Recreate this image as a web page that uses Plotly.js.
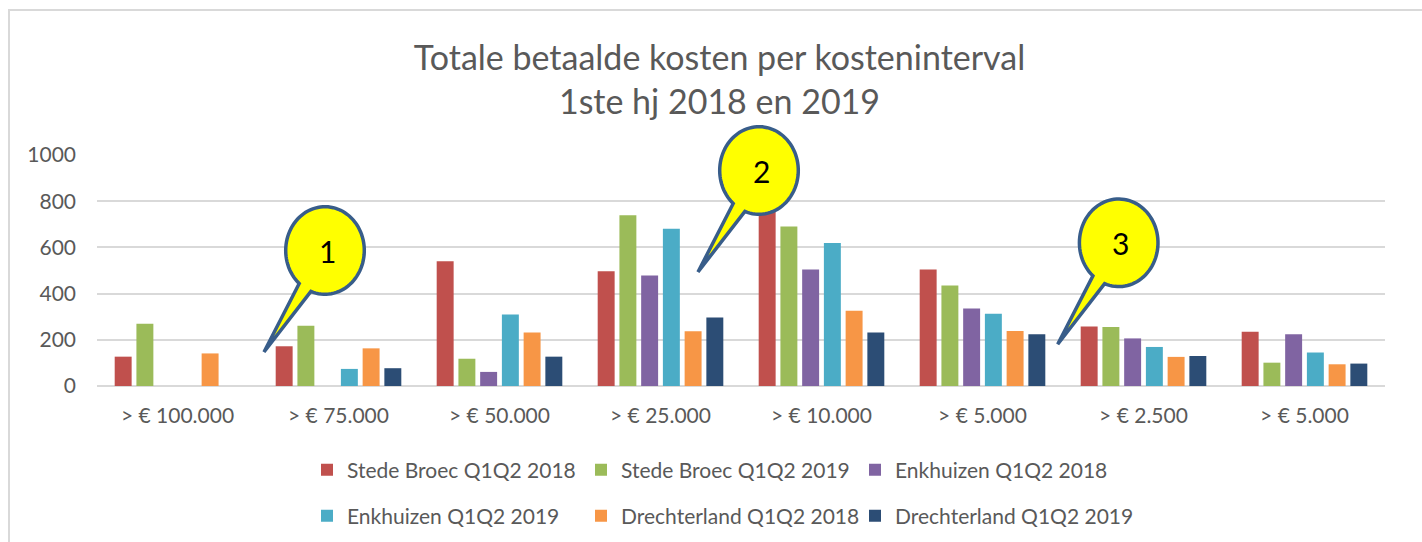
<!DOCTYPE html>
<html>
<head>
<meta charset="utf-8">
<script src="https://cdn.plot.ly/plotly-3.0.1.min.js"></script>
<style>
  html, body { margin: 0; padding: 0; background: #fff; }
  #chart { width: 1422px; height: 542px; }
</style>
</head>
<body>
<div id="chart"></div>
<script>
// ---- data ----
const categories = ['> € 100.000', '> € 75.000', '> € 50.000', '> € 25.000', '> € 10.000', '> € 5.000', '> € 2.500', '> € 5.000'];
const seriesNames = ['Stede Broec Q1Q2 2018', 'Stede Broec Q1Q2 2019', 'Enkhuizen Q1Q2 2018', 'Enkhuizen Q1Q2 2019', 'Drechterland Q1Q2 2018', 'Drechterland Q1Q2 2019'];
const stedeBroec2018 = [127, 172, 540, 497, 840, 504, 258, 235];
const stedeBroec2019 = [270, 261, 118, 739, 691, 435, 255, 101];
const enkhuizen2018 = [null, null, 61, 478, 504, 336, 206, 224];
const enkhuizen2019 = [null, 74, 309, 681, 619, 313, 169, 145];
const drechterland2018 = [141, 163, 232, 237, 326, 238, 126, 94];
const drechterland2019 = [null, 77, 127, 296, 232, 224, 130, 97];
const yTicks = [0, 200, 400, 600, 800, 1000];
const calloutLabels = ['1', '2', '3'];

// ---- style ----
const colors = ['#C0504D', '#9BBB59', '#8064A2', '#4BACC6', '#F79646', '#2C4D75'];
const FONT = 'Lato, "Open Sans", sans-serif';
const TXT = '#595959';
const W = 1422, H = 542;
const M = { l: 97, r: 37, t: 155, b: 156 };
const PW = W - M.l - M.r, PH = H - M.t - M.b;
const px2x = p => (p - M.l) / PW;
const px2y = p => (H - M.b - p) / PH;

const xIdx = categories.map((c, i) => i);
const allSeries = [stedeBroec2018, stedeBroec2019, enkhuizen2018, enkhuizen2019, drechterland2018, drechterland2019];

const traces = allSeries.map((vals, i) => ({
  type: 'bar',
  name: seriesNames[i],
  x: xIdx,
  y: vals,
  marker: { color: colors[i], line: { width: 0 } },
  legend: i < 3 ? 'legend' : 'legend2',
  legendwidth: (i % 3 === 2) ? 270 : 229,
  hoverinfo: 'skip'
}));

// callout geometry (pixel space -> paper)
const calloutCenters = [[325, 250.5], [759, 170.5], [1118.7, 242.8]];
const RX = 39.3, RY = 43.8;
const TIP = [-61, 101.5];
function calloutPath(cx, cy) {
  const dir = Math.atan2(TIP[1], TIP[0]);
  const half = 10 * Math.PI / 180;
  const a1 = dir + half, a2 = dir - half;
  const pt = a => [cx + RX * Math.cos(a), cy + RY * Math.sin(a)];
  const P = [];
  P.push(pt(a1));
  P.push([cx + TIP[0], cy + TIP[1]]);
  const steps = 90;
  const end = a1 - 2 * Math.PI;
  for (let k = 0; k <= steps; k++) {
    P.push(pt(a2 + (end - a2) * k / steps));
  }
  return 'M' + P.map(p => px2x(p[0]).toFixed(5) + ',' + px2y(p[1]).toFixed(5)).join('L') + 'Z';
}

const shapes = [
  { type: 'rect', xref: 'paper', yref: 'paper', x0: px2x(9), x1: px2x(1440), y0: px2y(560), y1: px2y(10),
    line: { color: '#D9D9D9', width: 2 }, fillcolor: 'rgba(0,0,0,0)', layer: 'below' }
];
calloutCenters.forEach(c => {
  shapes.push({ type: 'path', xref: 'paper', yref: 'paper', path: calloutPath(c[0], c[1]),
    fillcolor: '#FFFF00', line: { color: '#385D8A', width: 3.5 }, layer: 'above' });
});

const annotations = calloutCenters.map((c, i) => ({
  xref: 'paper', yref: 'paper', x: px2x(c[0] + 2), y: px2y(c[1]), text: calloutLabels[i],
  showarrow: false, xanchor: 'center', yanchor: 'middle',
  font: { family: FONT, size: 30, color: '#000' }
}));

const legendBase = {
  orientation: 'h', xanchor: 'left', yanchor: 'middle',
  xref: 'container', yref: 'container',
  entrywidthmode: 'pixels', traceorder: 'normal',
  font: { family: FONT, size: 21, color: TXT }, bgcolor: 'rgba(0,0,0,0)'
};

const layout = {
  width: W, height: H,
  margin: M,
  paper_bgcolor: '#fff', plot_bgcolor: '#fff',
  font: { family: FONT, color: TXT, size: 21 },
  title: {
    text: 'Totale betaalde kosten per kosteninterval<br>1ste hj 2018 en 2019',
    font: { family: FONT, size: 34, color: TXT },
    x: 719.5 / W, xanchor: 'center', xref: 'container',
    y: 1 - 70 / H, yanchor: 'top', yref: 'container'
  },
  barmode: 'group',
  bargap: 0.19,
  bargroupgap: 0.22,
  xaxis: {
    range: [-0.5, categories.length - 0.5],
    tickvals: xIdx, ticktext: categories,
    showgrid: false, zeroline: false, showline: false, ticks: '',
    tickfont: { family: FONT, size: 21, color: TXT },
    ticklabelstandoff: 15, fixedrange: true
  },
  yaxis: {
    range: [0, 1000], tickvals: yTicks,
    showgrid: true, gridcolor: '#D9D9D9', gridwidth: 2,
    zeroline: true, zerolinecolor: '#D9D9D9', zerolinewidth: 2,
    showline: false, ticks: '',
    tickfont: { family: FONT, size: 21, color: TXT },
    ticklabelstandoff: 20, fixedrange: true
  },
  legend: Object.assign({}, legendBase, { x: 307 / W, y: 1 - 470 / H }),
  legend2: Object.assign({}, legendBase, { x: 307 / W, y: 1 - 516 / H }),
  shapes: shapes,
  annotations: annotations,
  hovermode: false
};

Plotly.newPlot('chart', traces, layout, { displayModeBar: false, staticPlot: true });
</script>
</body>
</html>
